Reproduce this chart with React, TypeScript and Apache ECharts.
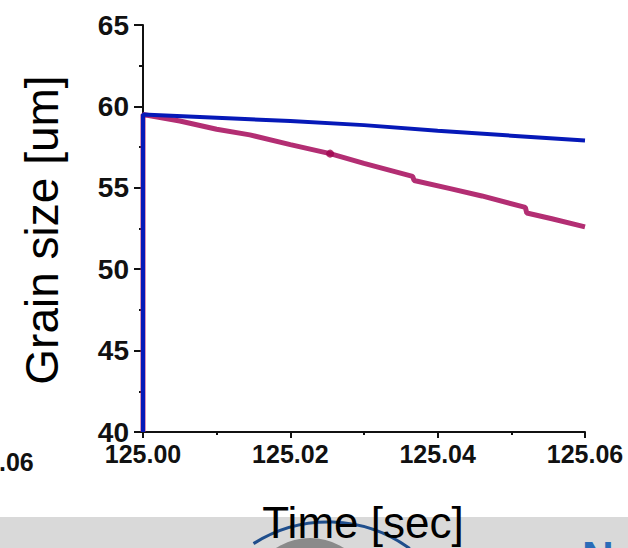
import React, { useEffect, useRef } from "react";
import * as echarts from "echarts";

// Time values (sec) and grain sizes (um)
const blueTime = [125.0, 125.0, 125.01, 125.02, 125.03, 125.04, 125.05, 125.06];
const blueSize = [40, 59.5, 59.3, 59.1, 58.85, 58.5, 58.2, 57.9];

const magentaTime = [
  125.0, 125.0, 125.005, 125.01, 125.0145, 125.02, 125.0254, 125.03, 125.0366,
  125.0368, 125.0417, 125.046, 125.0519, 125.0521, 125.0555, 125.06,
];
const magentaSize = [
  40, 59.5, 59.1, 58.6, 58.25, 57.65, 57.1, 56.5, 55.7, 55.45, 54.95, 54.5, 53.8,
  53.45, 53.1, 52.6,
];
const markerIndex = 6;

const yTicks = [40, 45, 50, 55, 60, 65];
const xTicks = [125.0, 125.02, 125.04, 125.06];

const App: React.FC = () => {
  const ref = useRef<HTMLDivElement>(null);
  useEffect(() => {
    if (!ref.current) return;
    const chart = echarts.init(ref.current, undefined, { renderer: "svg" });
    const labelFont = "'Liberation Sans', Arial, sans-serif";
    chart.setOption({
      animation: false,
      backgroundColor: "#ffffff",
      grid: { left: 143, top: 25, right: 43, bottom: 116 },
      xAxis: {
        type: "value",
        min: xTicks[0],
        max: xTicks[xTicks.length - 1],
        interval: 0.02,
        axisLine: { onZero: false, lineStyle: { color: "#111", width: 2 } },
        axisTick: { length: 6, lineStyle: { color: "#111", width: 2 } },
        minorTick: { show: true, splitNumber: 2, length: 3, lineStyle: { color: "#111", width: 2 } },
        splitLine: { show: false },
        axisLabel: {
          color: "#111",
          fontSize: 25,
          fontWeight: "bold",
          fontFamily: labelFont,
          margin: 9,
          formatter: (v: number) => v.toFixed(2),
        },
      },
      yAxis: {
        type: "value",
        min: yTicks[0],
        max: yTicks[yTicks.length - 1],
        interval: 5,
        axisLine: { show: true, lineStyle: { color: "#111", width: 2 } },
        axisTick: { show: true, length: 9, lineStyle: { color: "#111", width: 2 } },
        minorTick: { show: true, splitNumber: 2, length: 4, lineStyle: { color: "#111", width: 2 } },
        splitLine: { show: false },
        axisLabel: {
          color: "#111",
          fontSize: 28,
          fontWeight: "bold",
          fontFamily: labelFont,
          margin: 14,
        },
      },
      series: [
        {
          type: "line",
          data: magentaTime.map((t, i) => [t, magentaSize[i]]),
          symbol: "none",
          lineStyle: { color: "#b32e73", width: 5 },
          z: 2,
        },
        {
          type: "scatter",
          data: [[magentaTime[markerIndex], magentaSize[markerIndex]]],
          symbol: "circle",
          symbolSize: 8,
          itemStyle: { color: "#a0054f" },
          z: 3,
        },
        {
          type: "line",
          data: blueTime.map((t, i) => [t, blueSize[i]]),
          symbol: "none",
          lineStyle: { color: "#0619b8", width: 4 },
          z: 4,
        },
      ],
      graphic: [
        {
          type: "rect",
          shape: { x: 0, y: 517, width: 628, height: 31 },
          style: { fill: "#d9d9d9" },
          z: -10,
        },
        {
          type: "arc",
          shape: { cx: 310, cy: 601, r: 58, startAngle: Math.PI * 1.2, endAngle: Math.PI * 1.8 },
          style: { stroke: "#8a8a8a", lineWidth: 10, fill: "none" },
          z: -5,
        },
        {
          type: "arc",
          shape: { cx: 328, cy: 661, r: 139, startAngle: Math.PI * 1.32, endAngle: Math.PI * 1.7 },
          style: { stroke: "#1f4e8c", lineWidth: 3, fill: "none" },
          z: -4,
        },
        {
          type: "text",
          x: 363,
          y: 500,
          style: {
            text: "Time [sec]",
            fontSize: 44,
            fontFamily: labelFont,
            fill: "#000",
            align: "center",
            verticalAlign: "top",
          },
          z: 10,
        },
        {
          type: "text",
          x: 42,
          y: 230,
          rotation: Math.PI / 2,
          style: {
            text: "Grain size [um]",
            fontSize: 46,
            fontFamily: labelFont,
            fill: "#000",
            align: "center",
            verticalAlign: "middle",
          },
        },
        {
          type: "text",
          x: -1,
          y: 462,
          style: {
            text: ".06",
            fontSize: 25,
            fontWeight: "bold",
            fontFamily: labelFont,
            fill: "#111",
            align: "left",
            verticalAlign: "middle",
          },
        },
        {
          type: "text",
          x: 582,
          y: 535,
          style: {
            text: "N",
            fontSize: 44,
            fontWeight: "bold",
            fontFamily: labelFont,
            fill: "#2a6cb8",
            align: "left",
            verticalAlign: "top",
          },
        },
      ],
    });
    return () => chart.dispose();
  }, []);
  return <div ref={ref} style={{ width: 628, height: 548, position: "absolute", left: 0, top: 0 }} />;
};

export default App;
